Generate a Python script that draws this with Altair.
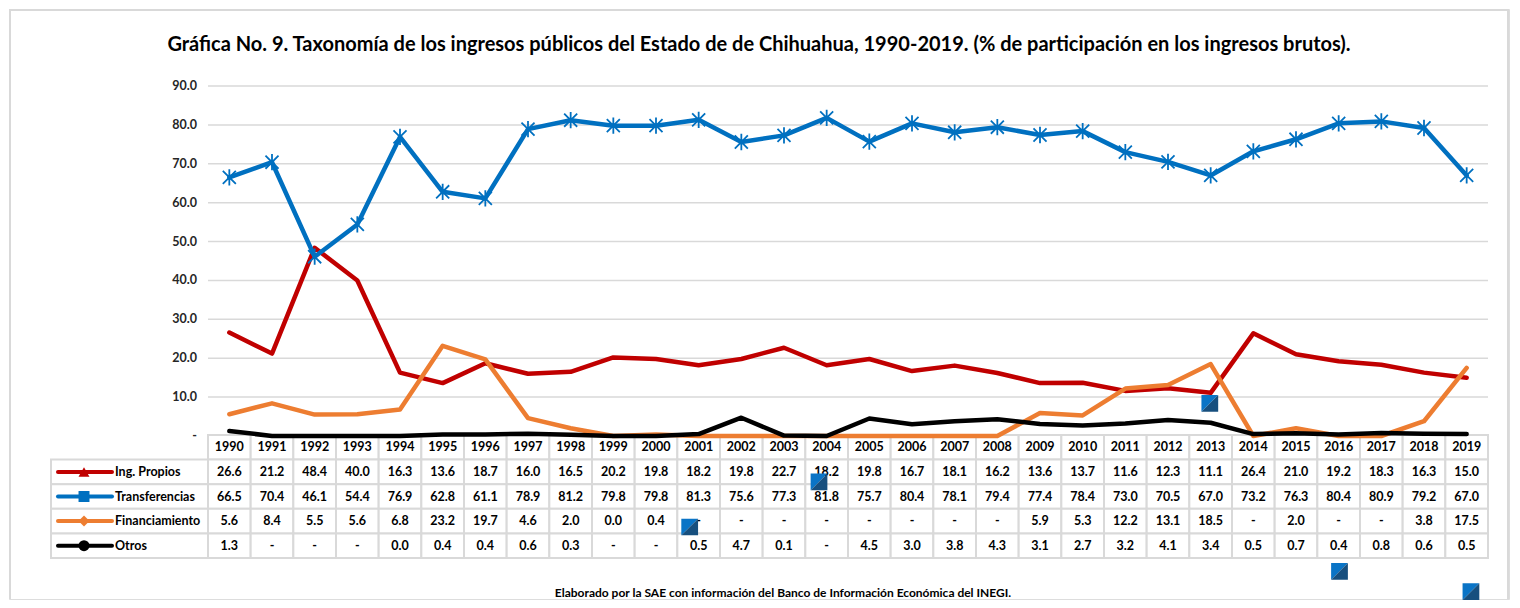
import altair as alt
import pandas as pd

# ---------------- data ----------------
YEARS = list(range(1990, 2020))
SERIES = ["Ing. Propios", "Transferencias", "Financiamiento", "Otros"]
ING_PROPIOS = [26.6, 21.2, 48.4, 40.0, 16.3, 13.6, 18.7, 16.0, 16.5, 20.2,
               19.8, 18.2, 19.8, 22.7, 18.2, 19.8, 16.7, 18.1, 16.2, 13.6,
               13.7, 11.6, 12.3, 11.1, 26.4, 21.0, 19.2, 18.3, 16.3, 15.0]
TRANSFERENCIAS = [66.5, 70.4, 46.1, 54.4, 76.9, 62.8, 61.1, 78.9, 81.2, 79.8,
                  79.8, 81.3, 75.6, 77.3, 81.8, 75.7, 80.4, 78.1, 79.4, 77.4,
                  78.4, 73.0, 70.5, 67.0, 73.2, 76.3, 80.4, 80.9, 79.2, 67.0]
FINANCIAMIENTO = [5.6, 8.4, 5.5, 5.6, 6.8, 23.2, 19.7, 4.6, 2.0, 0.0,
                  0.4, None, None, None, None, None, None, None, None, 5.9,
                  5.3, 12.2, 13.1, 18.5, None, 2.0, None, None, 3.8, 17.5]
OTROS = [1.3, None, None, None, 0.0, 0.4, 0.4, 0.6, 0.3, None,
         None, 0.5, 4.7, 0.1, None, 4.5, 3.0, 3.8, 4.3, 3.1,
         2.7, 3.2, 4.1, 3.4, 0.5, 0.7, 0.4, 0.8, 0.6, 0.5]
Y_TICKS = [0, 10, 20, 30, 40, 50, 60, 70, 80, 90]
# stray marker artefacts visible in the original picture
STRAY_YEAR = [2000.79, 2003.82, 2012.98, 2016.02, 2019.10]
STRAY_VALUE = [-23.4, -11.8, 8.4, -34.8, -40.0]

TITLE = ("Gráfica No. 9. Taxonomía de los ingresos públicos del Estado de de "
         "Chihuahua, 1990-2019. (% de participación en los ingresos brutos).")
FOOTER = "Elaborado por la SAE con información del Banco de Información Económica del INEGI."

COLORS = ["#C00000", "#0070C0", "#ED7D31", "#000000"]
SHAPES = ["triangle-up", "square", "diamond", "circle"]
VALUES = [ING_PROPIOS, TRANSFERENCIAS, FINANCIAMIENTO, OTROS]

# ---------------- layout ----------------
W, H = 1500, 590
FONT = "Lato"
GRID = "#d9d9d9"
X0, X1 = 199, 1479            # pixel span of the year columns
COLW = (X1 - X0) / len(YEARS)
XMIN, XMAX = YEARS[0] - 0.5, YEARS[-1] + 0.5


def px2yr(px):
    return XMIN + (px - X0) / COLW


X = alt.Scale(domain=[XMIN, XMAX], range=[X0, X1])
Y = alt.Scale(domain=[0, 90], range=[427, 77])
ROWS = ["hdr"] + SERIES
R = alt.Scale(domain=ROWS, range=[426, 549], paddingInner=0, paddingOuter=0)


def fmt(v):
    return "-" if v is None else f"{v:.1f}"


# long data
line_rows = []
for s, vals in zip(SERIES, VALUES):
    for yr, v in zip(YEARS, vals):
        line_rows.append({"serie": s, "year": yr, "plot": 0.0 if v is None else v})
lines_df = pd.DataFrame(line_rows)

cell_rows = []
for yr in YEARS:
    cell_rows.append({"row": "hdr", "year": yr, "x0": yr - 0.5, "x1": yr + 0.5, "txt": str(yr)})
for s, vals in zip(SERIES, VALUES):
    for yr, v in zip(YEARS, vals):
        cell_rows.append({"row": s, "year": yr, "x0": yr - 0.5, "x1": yr + 0.5, "txt": fmt(v)})
cells_df = pd.DataFrame(cell_rows)

leg_df = pd.DataFrame({
    "row": SERIES,
    "x0": [px2yr(42)] * 4, "x1": [XMIN] * 4,
    "l0": [px2yr(49)] * 4, "l1": [px2yr(103)] * 4,
    "m": [px2yr(75)] * 4, "t": [px2yr(106)] * 4,
})

grid_df = pd.DataFrame({"v": Y_TICKS[1:], "x0": XMIN, "x1": XMAX})
ylab_df = pd.DataFrame({"v": Y_TICKS, "x0": XMIN,
                        "lab": ["-\u2007\u2007" if t == 0 else f"{t:.1f}" for t in Y_TICKS]})
stray_df = pd.DataFrame({"year": STRAY_YEAR, "v": STRAY_VALUE})
one = pd.DataFrame({"a": [0]})

noax = dict(axis=None)

# ---------------- layers ----------------
frame = alt.layer(
    alt.Chart(one).mark_rule(color=GRID, strokeWidth=2).encode(
        x=alt.value(1), y=alt.value(0), y2=alt.value(H)),
    alt.Chart(one).mark_rule(color=GRID, strokeWidth=2).encode(
        x=alt.value(W - 1), y=alt.value(0), y2=alt.value(H)),
    alt.Chart(one).mark_rule(color=GRID, strokeWidth=2).encode(
        x=alt.value(0), x2=alt.value(W), y=alt.value(1)),
)

grid = alt.Chart(grid_df).mark_rule(color=GRID, strokeWidth=1.5).encode(
    x=alt.X("x0:Q", scale=X, **noax), x2="x1:Q",
    y=alt.Y("v:Q", scale=Y, **noax))

ylab = alt.Chart(ylab_df).mark_text(
    align="right", baseline="middle", dx=-11, font=FONT, fontSize=12.5,
    fontWeight="bold", color="#262626").encode(
    x=alt.X("x0:Q", scale=X, **noax), y=alt.Y("v:Q", scale=Y, **noax), text="lab:N")

line_layers = []
for s, c in zip(SERIES, COLORS):
    line_layers.append(
        alt.Chart(lines_df[lines_df.serie == s]).mark_line(
            color=c, strokeWidth=4.5, strokeJoin="round", strokeCap="round").encode(
            x=alt.X("year:Q", scale=X, **noax), y=alt.Y("plot:Q", scale=Y, **noax)))

ASTERISK = "M-1,-1L1,1M-1,1L1,-1M0,-1.25L0,1.25"
stars = alt.Chart(lines_df[lines_df.serie == "Transferencias"]).mark_point(
    shape=ASTERISK, size=170, filled=False, color=COLORS[1], strokeWidth=1.8,
    opacity=1).encode(
    x=alt.X("year:Q", scale=X, **noax), y=alt.Y("plot:Q", scale=Y, **noax))

top_lines = line_layers[2:]

cells = alt.Chart(cells_df).mark_rect(fill="white", stroke=GRID, strokeWidth=2).encode(
    x=alt.X("x0:Q", scale=X, **noax), x2="x1:Q",
    y=alt.Y("row:N", scale=R, **noax))
leg_cells = alt.Chart(leg_df).mark_rect(fill="white", stroke=GRID, strokeWidth=2).encode(
    x=alt.X("x0:Q", scale=X, **noax), x2="x1:Q",
    y=alt.Y("row:N", scale=R, **noax))

cell_text = alt.Chart(cells_df).mark_text(
    font=FONT, fontSize=12.5, fontWeight="bold", color="#000000", baseline="middle").encode(
    x=alt.X("year:Q", scale=X, **noax),
    y=alt.Y("row:N", scale=R, bandPosition=0.5, **noax), text="txt:N")

col_scale = alt.Scale(domain=SERIES, range=COLORS)
leg_line = alt.Chart(leg_df).mark_rule(strokeWidth=4, strokeCap="round").encode(
    x=alt.X("l0:Q", scale=X, **noax), x2="l1:Q",
    y=alt.Y("row:N", scale=R, bandPosition=0.5, **noax),
    color=alt.Color("row:N", scale=col_scale, legend=None))
leg_mark = alt.Chart(leg_df).mark_point(filled=True, size=120, opacity=1).encode(
    x=alt.X("m:Q", scale=X, **noax),
    y=alt.Y("row:N", scale=R, bandPosition=0.5, **noax),
    color=alt.Color("row:N", scale=col_scale, legend=None),
    shape=alt.Shape("row:N", scale=alt.Scale(domain=SERIES, range=SHAPES), legend=None))
leg_text = alt.Chart(leg_df).mark_text(
    align="left", baseline="middle", font=FONT, fontSize=12.5, fontWeight="bold",
    color="#000000").encode(
    x=alt.X("t:Q", scale=X, **noax),
    y=alt.Y("row:N", scale=R, bandPosition=0.5, **noax), text="row:N")

stray_a = alt.Chart(stray_df).mark_point(
    shape="M-1,-1L1,-1L-1,1Z", size=280, filled=True, color="#0A74C6", opacity=1).encode(
    x=alt.X("year:Q", scale=X, **noax), y=alt.Y("v:Q", scale=Y, **noax))
stray_b = alt.Chart(stray_df).mark_point(
    shape="M1,-1L1,1L-1,1Z", size=280, filled=True, color="#174F7E", opacity=1).encode(
    x=alt.X("year:Q", scale=X, **noax), y=alt.Y("v:Q", scale=Y, **noax))

footer = alt.Chart(one).mark_text(
    font=FONT, fontSize=12, fontWeight="bold", color="#000000", baseline="middle").encode(
    x=alt.value(774), y=alt.value(584), text=alt.value(FOOTER))

chart = alt.layer(
    frame, grid, ylab,
    cells, leg_cells,
    line_layers[0], line_layers[1], stars, *top_lines,
    cell_text, leg_line, leg_mark, leg_text,
    stray_a, stray_b, footer,
).resolve_scale(y="independent").properties(
    width=W, height=H, padding=0,
    title=alt.TitleParams(TITLE, font=FONT, fontSize=20, fontWeight="bold",
                          color="#000000", anchor="middle", frame="group",
                          offset=-57, baseline="middle"),
).configure_view(stroke=None).configure(font=FONT)

chart.save("out.html", embed_options={"renderer": "svg", "actions": False})
